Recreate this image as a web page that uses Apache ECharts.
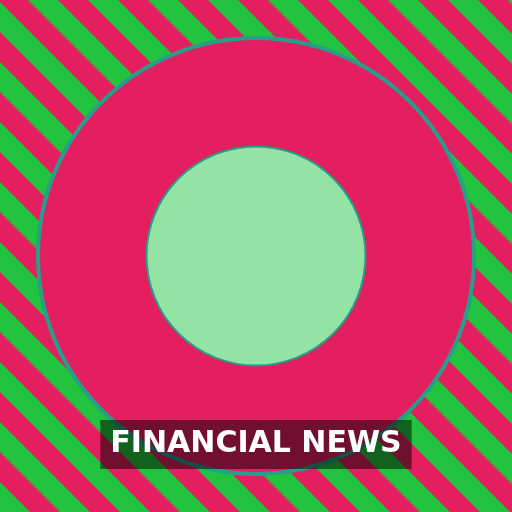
<!DOCTYPE html>
<html>
<head>
<meta charset="utf-8">
<script src="https://cdn.jsdelivr.net/npm/echarts@6/dist/echarts.min.js"></script>
<style>html,body{margin:0;padding:0;}#main{width:512px;height:512px;}</style>
</head>
<body>
<div id="main"></div>
<script>
const titleText = 'FINANCIAL NEWS';
const ringNames = ['News'];
const ringValues = [1];
const coreNames = ['Core'];
const coreValues = [1];

const PINK = '#E31F5F';
const GREEN = '#22C33F';
const TEAL = '#279E8C';
const LIGHT = '#93E3A5';

// decorative diagonal background bands (60px period, 45deg)
const bands = [];
for (let k = -10; k <= 10; k++) {
  const c0 = 2 + 60 * k, c1 = 32 + 60 * k;
  bands.push({
    type: 'polygon',
    silent: true,
    z: -100,
    shape: { points: [[-600, -600 + c0], [1200, 1200 + c0], [1200, 1200 + c1], [-600, -600 + c1]] },
    style: { fill: GREEN }
  });
}

const chart = echarts.init(document.getElementById('main'));
chart.setOption({
  backgroundColor: PINK,
  animation: false,
  graphic: { elements: bands },
  title: {
    text: titleText,
    left: 'center',
    top: 420,
    padding: [8, 10],
    backgroundColor: 'rgba(0,0,0,0.5)',
    z: 10,
    textStyle: {
      color: '#ffffff',
      fontFamily: 'DejaVu Sans',
      fontWeight: 'bold',
      fontSize: 30,
      lineHeight: 33
    }
  },
  series: [
    {
      type: 'pie',
      center: [256, 256],
      radius: [0, 218],
      silent: true,
      label: { show: false },
      labelLine: { show: false },
      itemStyle: { color: PINK, borderColor: TEAL, borderWidth: 4 },
      data: ringValues.map((v, i) => ({ name: ringNames[i], value: v })),
      z: 1
    },
    {
      type: 'pie',
      center: [256, 256],
      radius: [0, 109.5],
      silent: true,
      label: { show: false },
      labelLine: { show: false },
      itemStyle: { color: LIGHT, borderColor: TEAL, borderWidth: 2 },
      data: coreValues.map((v, i) => ({ name: coreNames[i], value: v })),
      z: 2
    }
  ]
});
</script>
</body>
</html>
